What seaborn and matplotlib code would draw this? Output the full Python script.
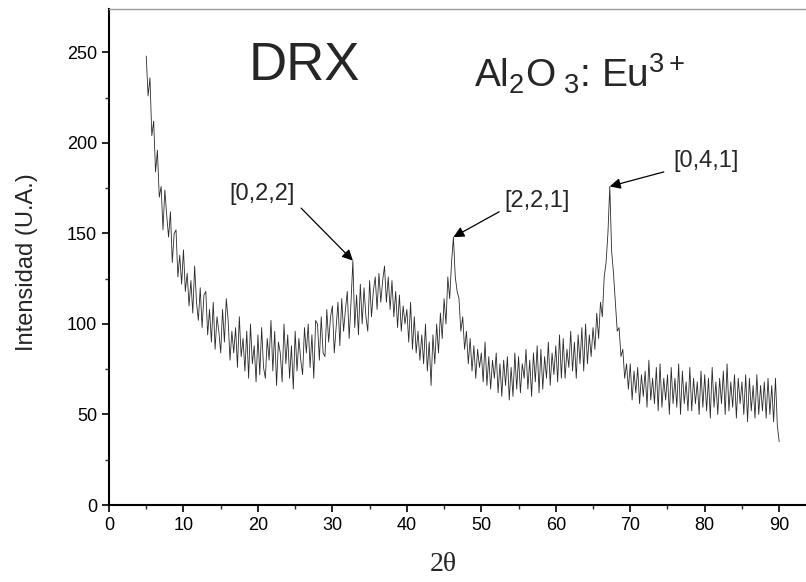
import numpy as np
import pandas as pd
import matplotlib
matplotlib.use("Agg")
import matplotlib.pyplot as plt
from matplotlib.ticker import MultipleLocator
import seaborn as sns

# ---- data: XRD intensity sampled every 0.25 deg (2theta from 5 to 90) ----
two_theta_start = 5.0
two_theta_step = 0.25
intensity = [
    248, 226, 236, 204,   # 5
    212, 184, 196, 170,   # 6
    176, 152, 174, 160,   # 7
    148, 162, 134, 150,   # 8
    152, 126, 138, 122,   # 9
    141, 118, 128, 110,   # 10
    124, 106, 132, 112,   # 11
    102, 120, 98, 116,    # 12
    118, 94, 108, 90,     # 13
    112, 86, 104, 96,     # 14
    84, 108, 90, 114,     # 15
    102, 80, 96, 84,      # 16
    98, 76, 104, 82,      # 17
    92, 74, 96, 70,       # 18
    100, 78, 88, 68,      # 19
    94, 72, 98, 76,       # 20
    70, 92, 80, 102,      # 21
    74, 96, 66, 90,       # 22
    84, 68, 100, 78,      # 23
    94, 70, 88, 64,       # 24
    96, 74, 92, 80,       # 25
    72, 98, 84, 100,      # 26
    76, 94, 70, 102,      # 27
    100, 80, 104, 84,     # 28
    82, 108, 90, 104,     # 29
    110, 84, 98, 112,     # 30
    88, 114, 96, 108,     # 31
    118, 92, 112, 135,    # 32
    98, 116, 94, 122,     # 33
    100, 120, 104, 96,    # 34
    124, 104, 118, 126,   # 35
    108, 128, 112, 124,   # 36
    132, 112, 126, 108,   # 37
    124, 104, 118, 98,    # 38
    116, 96, 110, 100,    # 39
    108, 90, 112, 86,     # 40
    104, 84, 96, 80,      # 41
    94, 78, 100, 74,      # 42
    90, 66, 94, 78,       # 43
    100, 84, 106, 92,     # 44
    114, 100, 126, 114,   # 45
    134, 148, 126, 118,   # 46
    114, 96, 104, 86,     # 47
    96, 78, 92, 74,       # 48
    88, 70, 86, 76,       # 49
    84, 68, 90, 66,       # 50
    82, 64, 80, 70,       # 51
    84, 62, 78, 60,       # 52
    80, 66, 82, 58,       # 53
    76, 60, 84, 64,       # 54
    82, 62, 78, 70,       # 55
    86, 64, 80, 60,       # 56
    84, 68, 88, 62,       # 57
    86, 64, 82, 70,       # 58
    90, 66, 84, 72,       # 59
    88, 68, 94, 70,       # 60
    92, 70, 86, 76,       # 61
    96, 74, 90, 70,       # 62
    94, 78, 98, 74,       # 63
    100, 78, 94, 82,      # 64
    98, 86, 106, 92,      # 65
    112, 104, 126, 134,   # 66
    150, 176, 140, 128,   # 67
    112, 96, 98, 82,      # 68
    86, 70, 78, 64,       # 69
    78, 58, 74, 62,       # 70
    76, 56, 72, 60,       # 71
    74, 54, 80, 58,       # 72
    70, 56, 76, 52,       # 73
    78, 54, 70, 58,       # 74
    72, 50, 76, 56,       # 75
    70, 54, 78, 50,       # 76
    74, 56, 68, 52,       # 77
    76, 52, 70, 56,       # 78
    68, 50, 74, 54,       # 79
    72, 52, 70, 48,       # 80
    76, 54, 68, 50,       # 81
    70, 56, 74, 50,       # 82
    78, 52, 68, 54,       # 83
    72, 48, 70, 56,       # 84
    68, 50, 72, 46,       # 85
    70, 52, 66, 48,       # 86
    72, 50, 66, 52,       # 87
    68, 48, 70, 50,       # 88
    66, 46, 70, 44,       # 89
    35,                   # 90
]
two_theta = two_theta_start + two_theta_step * np.arange(len(intensity))

x_ticks = [0, 10, 20, 30, 40, 50, 60, 70, 80, 90]
y_ticks = [0, 50, 100, 150, 200, 250]

peak_labels = ["[0,2,2]", "[2,2,1]", "[0,4,1]"]
peak_pos = [32.75, 46.25, 67.25]
peak_val = [135, 148, 176]

df = pd.DataFrame({"two_theta": two_theta, "intensity": intensity})

# ---- style ----
sns.set_style("ticks")
plt.rcParams["font.family"] = ["Liberation Sans", "DejaVu Sans"]
plt.rcParams["mathtext.fontset"] = "custom"
plt.rcParams["mathtext.rm"] = "Liberation Sans"
plt.rcParams["mathtext.it"] = "Liberation Sans:italic"
plt.rcParams["mathtext.bf"] = "Liberation Sans:bold"

fig = plt.figure(figsize=(8.06, 5.82), dpi=100)
ax = fig.add_axes([109 / 806, 77 / 582, 697 / 806, 496 / 582])

sns.lineplot(data=df, x="two_theta", y="intensity", ax=ax, estimator=None,
             color="#2a2a2a", linewidth=0.6)

ax.set_xlim(0, 93.6)
ax.set_ylim(0, 274)
ax.set_xticks(x_ticks)
ax.set_yticks(y_ticks)
ax.xaxis.set_minor_locator(MultipleLocator(5))
ax.yaxis.set_minor_locator(MultipleLocator(25))
ax.tick_params(which="major", direction="out", length=5, width=1.2,
               labelsize=13, colors="black")
ax.tick_params(which="minor", direction="out", length=3, width=1.0)

for s in ["left", "bottom"]:
    ax.spines[s].set_linewidth(1.5)
    ax.spines[s].set_color("black")
ax.spines["top"].set_color("#9a9a9a")
ax.spines["top"].set_linewidth(1.0)
ax.spines["right"].set_visible(False)

ax.set_xlabel("2θ", family=["Liberation Serif", "DejaVu Serif"], fontsize=20)
ax.xaxis.set_label_coords(0.48, -0.095)
ax.set_ylabel("Intensidad (U.A.)", fontsize=17)
ax.yaxis.set_label_coords(-0.102, 0.49)

# annotations
text_pos = [(20.6, 166), (57.5, 162), (80.2, 184)]
arrow_tail = [(25.8, 164), (52.4, 162), (74.5, 184)]
for lab, px, py, (tx, ty), (ax0, ay0) in zip(peak_labels, peak_pos, peak_val,
                                              text_pos, arrow_tail):
    ax.annotate("", xy=(px, py), xytext=(ax0, ay0),
                arrowprops=dict(arrowstyle="-|>", color="black", lw=0.9,
                                mutation_scale=16, shrinkA=0, shrinkB=0))
    ax.text(tx, ty, lab, fontsize=17, ha="center", va="bottom")

fig.text(304 / 806, 1 - 80 / 582, "DRX", fontsize=38, ha="center",
         va="baseline")
fig.text(580 / 806, 1 - 88 / 582, r"Al$_2$O$_{\ 3}$: Eu$^{3+}$", fontsize=28,
         ha="center", va="baseline")

fig.savefig("out.png", dpi=100)
